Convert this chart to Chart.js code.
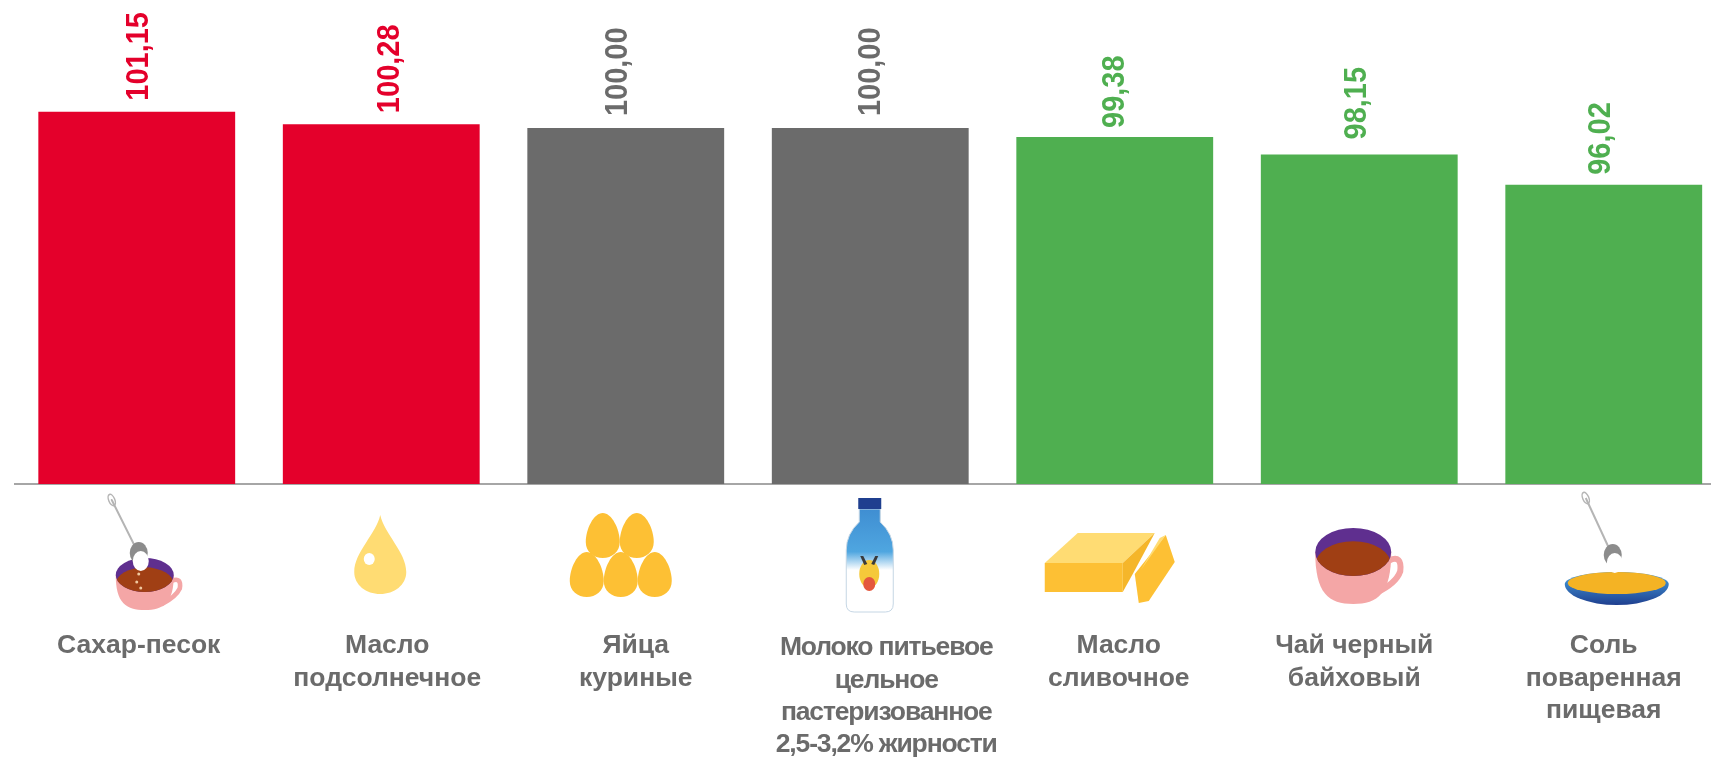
<!DOCTYPE html>
<html lang="ru">

<head>
    <meta charset="UTF-8" />
    <title>Индексы цен</title>
    <script src="https://cdn.jsdelivr.net/npm/chart.js"></script>
    <style>
        html, body { margin: 0; background: #fff; overflow: hidden; }
        #wrap { width: 1730px; height: 757px; }
    </style>
</head>

<body>
<div id="wrap"><canvas id="priceChart" width="1730" height="757"></canvas></div>

<script>
  const categories = [
      ["Сахар-песок"],
      ["Масло", "подсолнечное"],
      ["Яйца", "куриные"],
      ["Молоко питьевое", "цельное", "пастеризованное", "2,5-3,2% жирности"],
      ["Масло", "сливочное"],
      ["Чай черный", "байховый"],
      ["Соль", "поваренная", "пищевая"]
  ];
  const values = [101.15, 100.28, 100.00, 100.00, 99.38, 98.15, 96.02];
  const barColors = ["#E4002B", "#E4002B", "#6B6B6B", "#6B6B6B", "#4FAF50", "#4FAF50", "#4FAF50"];

  // the text boxes in the original do not sit exactly over the bars
  const valueShift = [2, 9, -8, 1, 0, -2, -3];
  const valueGap = [11, 11, 12, 12, 9, 15, 10];
  const nameShift = [2, 6, 10, 16, 4, -5, 0];
  const GREY = "#6B6B6B";

  function fillPath(ctx, color, pts) {
      ctx.fillStyle = color;
      ctx.beginPath();
      pts.forEach((p, i) => i ? ctx.lineTo(p[0], p[1]) : ctx.moveTo(p[0], p[1]));
      ctx.closePath();
      ctx.fill();
  }
  function oval(ctx, color, x, y, rx, ry) {
      ctx.fillStyle = color;
      ctx.beginPath();
      ctx.ellipse(x, y, rx, ry, 0, 0, Math.PI * 2);
      ctx.fill();
  }
  function egg(ctx, x, top) {
      ctx.fillStyle = "#FDC034";
      ctx.beginPath();
      ctx.moveTo(x, top);
      ctx.bezierCurveTo(x + 9, top, x + 17, top + 16, x + 17, top + 29);
      ctx.bezierCurveTo(x + 17, top + 39, x + 9, top + 45, x, top + 45);
      ctx.bezierCurveTo(x - 9, top + 45, x - 17, top + 39, x - 17, top + 29);
      ctx.bezierCurveTo(x - 17, top + 16, x - 9, top, x, top);
      ctx.fill();
  }
  function spoon(ctx, x0, y0, x1, y1) {
      ctx.strokeStyle = "#B5B5B5";
      ctx.lineWidth = 2;
      ctx.beginPath();
      ctx.moveTo(x0, y0);
      ctx.lineTo(x1, y1);
      ctx.stroke();
      ctx.lineWidth = 1.5;
      ctx.beginPath();
      ctx.ellipse(x0, y0, 3, 6, -0.4, 0, Math.PI * 2);
      ctx.stroke();
      oval(ctx, "#8C8C8C", x1 + 2, y1 + 3, 9, 11);
      oval(ctx, "#FFFFFF", x1 + 4, y1 + 11, 8, 10);
  }
  function cup(ctx, x, rimY, rx, ry, bottom, handleW) {
      // handle
      ctx.strokeStyle = "#F4A6A6";
      ctx.lineWidth = rx * 0.16;
      ctx.lineCap = "round";
      ctx.beginPath();
      ctx.moveTo(x + rx - 2, rimY + ry * 0.35);
      ctx.quadraticCurveTo(x + rx + handleW, rimY + ry * 0.1, x + rx + handleW - 2, rimY + ry * 0.8);
      ctx.quadraticCurveTo(x + rx + handleW - 6, rimY + ry * 1.3, x + rx * 0.6, rimY + ry * 1.7);
      ctx.stroke();
      // body
      ctx.fillStyle = "#F4A6A6";
      ctx.beginPath();
      ctx.moveTo(x - rx, rimY);
      ctx.bezierCurveTo(x - rx, bottom - (bottom - rimY) * 0.2, x - rx * 0.65, bottom, x, bottom);
      ctx.bezierCurveTo(x + rx * 0.65, bottom, x + rx, bottom - (bottom - rimY) * 0.2, x + rx, rimY);
      ctx.closePath();
      ctx.fill();
      // inside and tea
      oval(ctx, "#5F2F8F", x, rimY, rx, ry);
      ctx.save();
      ctx.beginPath();
      ctx.ellipse(x, rimY, rx, ry, 0, 0, Math.PI * 2);
      ctx.clip();
      oval(ctx, "#A03F14", x, rimY + ry * 0.55, rx, ry);
      ctx.restore();
  }

  // pictures under the bars, x and y are relative to bar centre and baseline
  const icons = [
      function (ctx) {
          cup(ctx, 8, 91, 29, 17, 126, 8);
          spoon(ctx, -25, 16, 0, 66);
          [[2, 90], [0, 98], [4, 104]].forEach(p => oval(ctx, "#F0C9A0", p[0], p[1], 1.5, 1.5));
      },
      function (ctx) {
          ctx.fillStyle = "#FFDC73";
          ctx.beginPath();
          ctx.moveTo(-1, 31);
          ctx.bezierCurveTo(3, 50, 25, 68, 25, 88);
          ctx.bezierCurveTo(25, 101, 13, 110, -1, 110);
          ctx.bezierCurveTo(-15, 110, -27, 101, -27, 88);
          ctx.bezierCurveTo(-27, 68, -5, 50, -1, 31);
          ctx.fill();
          oval(ctx, "#FFFFFF", -12, 75, 5.5, 6);
      },
      function (ctx) {
          egg(ctx, -23, 29);
          egg(ctx, 11, 29);
          egg(ctx, -39, 68);
          egg(ctx, -5, 68);
          egg(ctx, 29, 68);
      },
      function (ctx) {
          // glass fading into milk, cap, picture on the label
          const fade = ctx.createLinearGradient(0, 25, 0, 86);
          fade.addColorStop(0, "#3F8ED2");
          fade.addColorStop(0.7, "#4FA6E0");
          fade.addColorStop(1, "#FFFFFF");
          ctx.fillStyle = fade;
          ctx.strokeStyle = "#C5D6E4";
          ctx.lineWidth = 1;
          ctx.beginPath();
          ctx.moveTo(-11, 25);
          ctx.lineTo(10, 25);
          ctx.lineTo(10, 38);
          ctx.quadraticCurveTo(23, 50, 23, 66);
          ctx.lineTo(23, 120);
          ctx.quadraticCurveTo(23, 128, 15, 128);
          ctx.lineTo(-16, 128);
          ctx.quadraticCurveTo(-24, 128, -24, 120);
          ctx.lineTo(-24, 66);
          ctx.quadraticCurveTo(-24, 50, -11, 38);
          ctx.closePath();
          ctx.fill();
          ctx.stroke();
          fillPath(ctx, "#1F3F8F", [[-12, 14], [11, 14], [11, 25], [-12, 25]]);
          oval(ctx, "#F5C93A", -1, 90, 10, 14);
          fillPath(ctx, "#3A3A3A", [[-10, 72], [-7, 72], [-3, 80], [-6, 81]]);
          fillPath(ctx, "#3A3A3A", [[8, 72], [5, 72], [1, 80], [4, 81]]);
          oval(ctx, "#E4573D", -1, 100, 6, 7);
      },
      function (ctx) {
          fillPath(ctx, "#FDC034", [[-70, 79], [8, 79], [8, 108], [-70, 108]]);
          fillPath(ctx, "#FFDC73", [[-70, 79], [-37, 49], [40, 49], [8, 79]]);
          fillPath(ctx, "#F5B62A", [[8, 79], [40, 49], [18, 90], [8, 108]]);
          fillPath(ctx, "#FDC034", [[51, 51], [60, 78], [34, 117], [24, 119], [20, 90]]);
          fillPath(ctx, "#FFDC73", [[51, 51], [45, 54], [26, 86]]);
      },
      function (ctx) {
          cup(ctx, -6, 68, 38, 24, 120, 11);
      },
      function (ctx) {
          const g = ctx.createLinearGradient(0, 95, 0, 121);
          g.addColorStop(0, "#3F8FD0");
          g.addColorStop(1, "#1F3F8F");
          ctx.fillStyle = g;
          ctx.beginPath();
          ctx.ellipse(13, 100, 52, 12, 0, Math.PI, Math.PI * 2);
          ctx.ellipse(13, 100, 52, 21, 0, 0, Math.PI);
          ctx.fill();
          oval(ctx, "#F4B324", 13, 99, 49, 11);
          spoon(ctx, -18, 14, 7, 68);
      }
  ];

  const extrasPlugin = {
      id: "extras",
      afterDraw(chart) {
          const ctx = chart.ctx;
          const x = chart.scales.x;
          const y = chart.scales.y;
          const base = y.getPixelForValue(y.min);

          values.forEach((v, i) => {
              const cx = x.getPixelForValue(i);

              // value, turned on its side
              ctx.save();
              ctx.translate(cx + valueShift[i], y.getPixelForValue(v) - valueGap[i]);
              ctx.rotate(-Math.PI / 2);
              ctx.scale(1, 1.1);
              ctx.font = "bold 29px 'Liberation Sans'";
              ctx.textAlign = "left";
              ctx.textBaseline = "middle";
              ctx.fillStyle = barColors[i];
              ctx.fillText(v.toFixed(2).replace(".", ","), 0, 0);
              ctx.restore();

              // picture
              ctx.save();
              ctx.translate(cx, base);
              icons[i](ctx);
              ctx.restore();

              // name
              ctx.save();
              ctx.font = "bold 26.5px 'Liberation Sans'";
              ctx.textAlign = "center";
              ctx.textBaseline = "middle";
              ctx.fillStyle = GREY;
              if (categories[i].length > 3) ctx.letterSpacing = "-1.15px";
              const firstLine = categories[i].length > 3 ? 164 : 162;
              categories[i].forEach((line, n) => {
                  ctx.fillText(line, cx + nameShift[i], base + firstLine + n * 32.3);
              });
              ctx.restore();
          });
      }
  };

  new Chart(document.getElementById("priceChart"), {
      type: "bar",
      data: {
          labels: categories.map(c => c.join(" ")),
          datasets: [{
              data: values,
              backgroundColor: barColors,
              barPercentage: 0.805,
              categoryPercentage: 1
          }]
      },
      options: {
          responsive: false,
          animation: false,
          layout: { padding: { left: 14.5, right: 4, top: 0, bottom: 273 } },
          plugins: {
              legend: { display: false },
              tooltip: { enabled: false }
          },
          scales: {
              x: {
                  grid: { display: false, drawTicks: false },
                  border: { color: "#A6A6A6", width: 2 },
                  ticks: { display: false }
              },
              y: {
                  display: false,
                  min: 75,
                  max: 109
              }
          }
      },
      plugins: [extrasPlugin]
  });
</script>

</body>

</html>
